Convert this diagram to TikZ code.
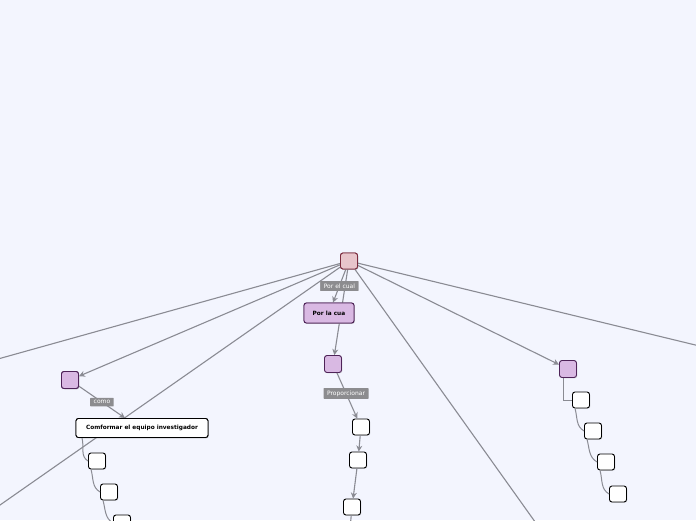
\documentclass[tikz,border=0pt]{standalone}
\usepackage{fontspec}
\usepackage{tikz}
\usetikzlibrary{arrows.meta,shadows}
\newfontfamily\mapfont{DejaVu Sans}

\definecolor{bgcol}{HTML}{F3F5FE}
\definecolor{linecol}{HTML}{8A8B93}
\definecolor{rootfill}{HTML}{E8C5CB}
\definecolor{rootdraw}{HTML}{7B2C3E}
\definecolor{purfill}{HTML}{D9B9E3}
\definecolor{purdraw}{HTML}{4E2358}
\definecolor{tagfill}{HTML}{8C8C8F}

\begin{document}
\begin{tikzpicture}[
  x=1pt, y=-1pt,
  font=\mapfont\bfseries\fontsize{5.8}{7}\selectfont,
  link/.style={draw=linecol, line width=1.1pt},
  arrlink/.style={link, -{Stealth[length=6pt,width=6pt]}},
  rootbox/.style={rectangle, rounded corners=2.5pt, draw=rootdraw, fill=rootfill, line width=0.9pt, minimum width=17pt, minimum height=16pt, inner sep=0pt, drop shadow={opacity=0.25,shadow xshift=0.8pt,shadow yshift=-0.8pt}},
  purbox/.style={rectangle, rounded corners=2.5pt, draw=purdraw, fill=purfill, line width=0.9pt, minimum width=17pt, minimum height=17pt, inner sep=0pt, drop shadow={opacity=0.25,shadow xshift=0.8pt,shadow yshift=-0.8pt}},
  leafbox/.style={rectangle, rounded corners=2.5pt, draw=black, fill=white, line width=0.9pt, minimum width=17pt, minimum height=16pt, inner sep=0pt, drop shadow={opacity=0.25,shadow xshift=0.8pt,shadow yshift=-0.8pt}},
  tag/.style={rectangle, fill=tagfill, text=white, font=\mapfont\fontsize{6}{7}\selectfont, inner xsep=3.5pt, inner ysep=2.5pt, rounded corners=0.5pt},
  treelink/.style={link, line width=1pt}
]
  \fill[bgcol] (0,0) rectangle (696,520);
  \useasboundingbox (0,0) rectangle (696,520);
  \clip (0,0) rectangle (696,520);

  % nodes
  \node[rootbox] (root) at (349,261) {};
  \node[purbox] (pleft) at (70,380) {};
  \node[leafbox, minimum width=132pt, minimum height=19pt] (team) at (142,428) {Comformar el equipo investigador};
  \node[purbox, minimum width=50pt, minimum height=20pt] (porla) at (329,313) {Por la cua};
  \node[purbox] (pmid) at (333,364) {};
  \node[purbox] (pright) at (568,369) {};

  \node[leafbox] (t1) at (97,461) {};
  \node[leafbox] (t2) at (109,492) {};
  \node[leafbox] (t3) at (122,523) {};

  \node[leafbox] (m1) at (361,427) {};
  \node[leafbox] (m2) at (358,460) {};
  \node[leafbox] (m3) at (352,507) {};

  \node[leafbox] (r1) at (581,400) {};
  \node[leafbox] (r2) at (593,431) {};
  \node[leafbox] (r3) at (606,462) {};
  \node[leafbox] (r4) at (618,494) {};

  % ends outside the picture
  \coordinate (outleft) at (-20,364);
  \coordinate (outdown) at (-20,519);
  \coordinate (outbot) at (548,540);
  \coordinate (outright) at (716,350);
  \coordinate (outmid) at (349,540);

  % connectors from the root
  \draw[link] (root) -- (outleft);
  \draw[link] (root) -- (outdown);
  \draw[link] (root) -- (outbot);
  \draw[link] (root) -- (outright);
  \draw[arrlink] (root) -- (pleft);
  \draw[arrlink] (root) -- (pright);
  \draw[arrlink] (root) -- (pmid);
  \draw[arrlink] (root) -- node[tag, pos=0.5] (tagcual) {Por el cual} (porla);
  \draw[arrlink] (pleft) -- node[tag, pos=0.5] (tagcomo) {como} ([xshift=-17pt]team.north);
  \draw[arrlink] (pmid) -- node[tag, pos=0.45] (tagprop) {Proporcionar} (m1);
  \draw[arrlink] (m1) -- (m2);
  \draw[arrlink] (m2) -- (m3);
  \draw[link] (m3) -- (outmid);

  % tree links
  \draw[treelink] ([xshift=-60pt]team.south) to[out=-75,in=150] (t1.west);
  \draw[treelink] ([xshift=3pt]t1.south west) to[out=-75,in=150] (t2.west);
  \draw[treelink] ([xshift=3pt]t2.south west) to[out=-75,in=150] (t3.west);
  \draw[treelink] ([xshift=-5pt]pright.south) |- (r1.west);
  \draw[treelink] ([xshift=3pt]r1.south west) to[out=-75,in=150] (r2.west);
  \draw[treelink] ([xshift=3pt]r2.south west) to[out=-75,in=150] (r3.west);
  \draw[treelink] ([xshift=3pt]r3.south west) to[out=-75,in=150] (r4.west);

  % boxes again, above the lines
  \node[rootbox] at (root) {};
  \node[purbox] at (pleft) {};
  \node[leafbox, minimum width=132pt, minimum height=19pt] at (team) {Comformar el equipo investigador};
  \node[purbox, minimum width=50pt, minimum height=20pt] at (porla) {Por la cua};
  \node[tag] at (tagcual) {Por el cual};
\end{tikzpicture}
\end{document}
